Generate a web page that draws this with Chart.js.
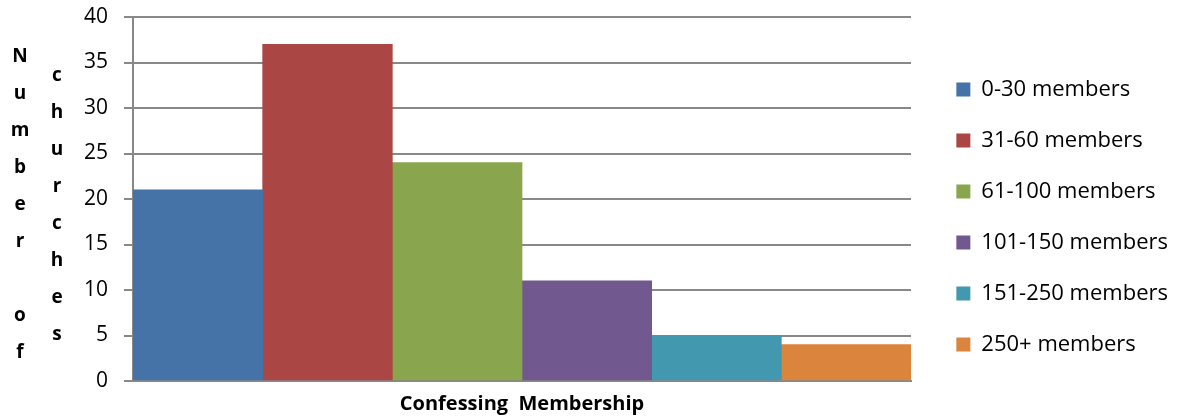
<!DOCTYPE html>
<html>
<head>
<meta charset="utf-8">
<title>Confessing Membership</title>
<script src="https://cdn.jsdelivr.net/npm/chart.js@4.4.0/dist/chart.umd.min.js"></script>
<style>
  html, body { margin: 0; padding: 0; background: #fff; }
  #wrap { width: 1185px; height: 417px; }
</style>
</head>
<body>
<div id="wrap"><canvas id="myChart" width="1185" height="417"></canvas></div>
<script>
var categories = [''];
var groups = ['0-30 members', '31-60 members', '61-100 members', '101-150 members', '151-250 members', '250+ members'];
var churches = [21, 37, 24, 11, 5, 4];
var colors = ['#4572A7', '#AA4643', '#89A54E', '#71588F', '#4198AF', '#DB843D'];
var yTicks = [0, 5, 10, 15, 20, 25, 30, 35, 40];
var yTitle = ['Number of', 'churches'];
var xTitle = 'Confessing  Membership';

var font = '"Open Sans", sans-serif';
var gridColor = '#888888';
var plotRight = 911;

// y-axis title written as stacked letters, one column per line
var stackedTitle = {
    id: 'stackedTitle',
    afterDraw: function(chart) {
        var ctx = chart.ctx;
        var area = chart.chartArea;
        var colX = [20, 57];
        var step = 37;
        var midY = (area.top + area.bottom) / 2 + 6;
        ctx.save();
        ctx.font = 'bold 19px ' + font;
        ctx.fillStyle = '#000';
        ctx.textAlign = 'center';
        ctx.textBaseline = 'middle';
        for (var c = 0; c < yTitle.length; c++) {
            var chars = yTitle[c].split('');
            for (var i = 0; i < chars.length; i++) {
                ctx.fillText(chars[i], colX[c], midY + (i - (chars.length - 1) / 2) * step);
            }
        }
        ctx.restore();
    }
};

var datasets = [];
for (var i = 0; i < groups.length; i++) {
    datasets.push({
        label: groups[i],
        data: [churches[i]],
        backgroundColor: colors[i],
        borderWidth: 0,
        categoryPercentage: 1,
        barPercentage: 1
    });
}

var ctx = document.getElementById('myChart').getContext('2d');
var myChart = new Chart(ctx, {
    type: 'bar',
    data: {
        labels: categories,
        datasets: datasets
    },
    options: {
        responsive: false,
        animation: false,
        devicePixelRatio: 1,
        layout: {
            padding: { top: 17, right: 7, bottom: 0, left: 0 }
        },
        plugins: {
            legend: {
                position: 'right',
                maxWidth: 300,
                labels: {
                    boxWidth: 14,
                    boxHeight: 14,
                    padding: 29,
                    color: '#000',
                    font: { family: font, size: 22 }
                }
            },
            tooltip: { enabled: false }
        },
        scales: {
            x: {
                grid: { display: false, drawTicks: false },
                border: { color: gridColor, width: 2 },
                ticks: { display: false },
                title: {
                    display: true,
                    text: xTitle,
                    color: '#000',
                    font: { family: font, size: 20, weight: 'bold' },
                    padding: { top: 11, bottom: 1 }
                }
            },
            y: {
                min: 0,
                max: 40,
                afterFit: function(scale) {
                    scale.width = 133;
                    // let the top label sit in the layout padding
                    scale.paddingTop = 0;
                    scale.paddingBottom = 0;
                },
                afterBuildTicks: function(scale) {
                    scale.ticks = yTicks.map(function(v) { return { value: v }; });
                },
                grid: { color: gridColor, lineWidth: 2, tickLength: 9 },
                border: { color: gridColor, width: 2 },
                ticks: {
                    color: '#000',
                    padding: 16,
                    font: { family: font, size: 21 }
                }
            },
            // empty axis that keeps a gap between the plot and the legend
            pad: {
                type: 'linear',
                position: 'right',
                grid: { display: false, drawTicks: false },
                border: { display: false },
                ticks: { display: false },
                afterFit: function(scale) {
                    scale.width = scale.chart.width - 7 - plotRight - scale.chart.legend.width;
                    scale.paddingTop = 0;
                    scale.paddingBottom = 0;
                }
            }
        }
    },
    plugins: [stackedTitle]
});
</script>
</body>
</html>
